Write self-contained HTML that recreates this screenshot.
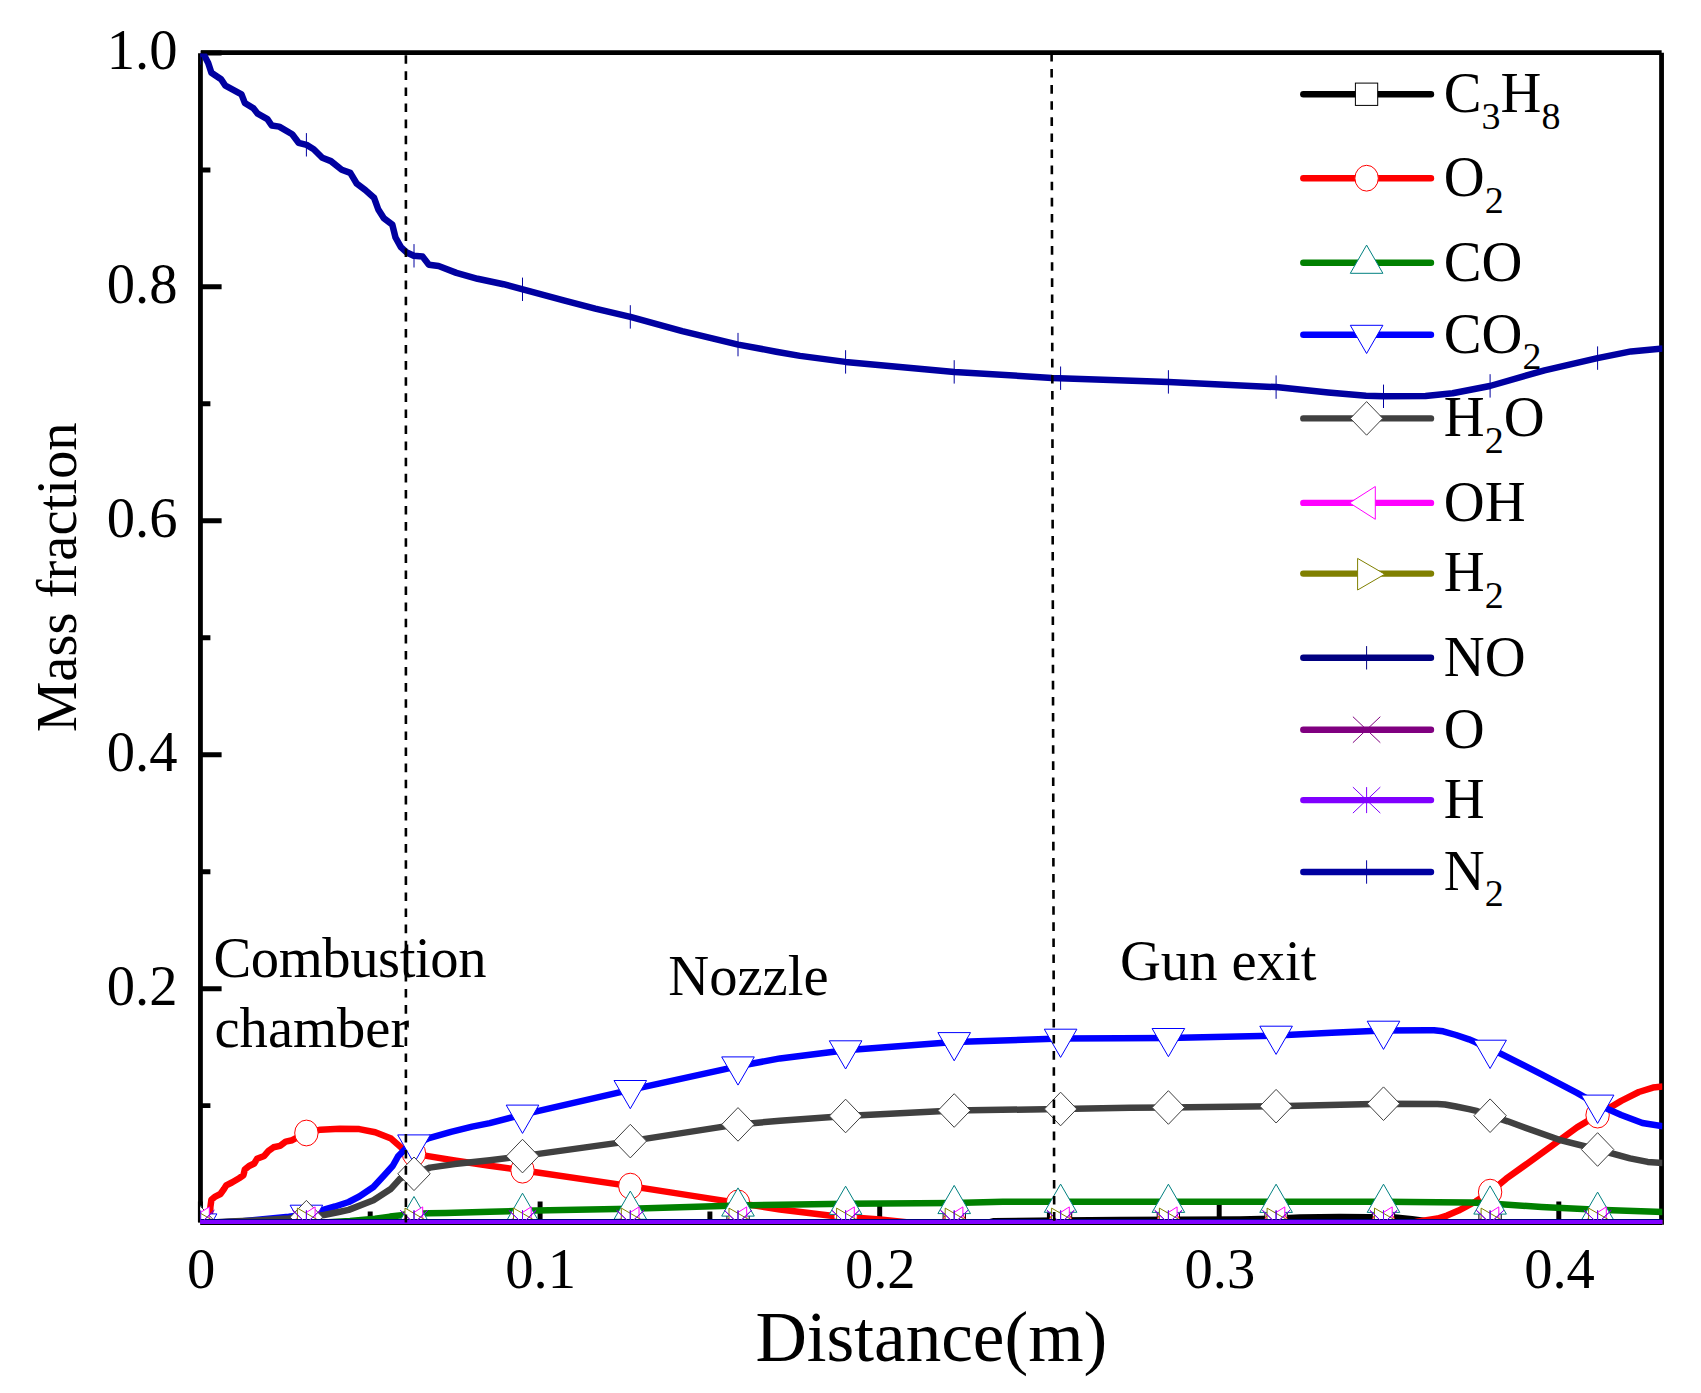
<!DOCTYPE html>
<html lang="en"><head><meta charset="utf-8"><title>Mass fraction vs distance</title>
<style>html,body{margin:0;padding:0;background:#fff}svg{display:block}text{font-family:'Liberation Serif', 'Times New Roman', serif;fill:#000}.t{font-size:56.6px}.sb{font-size:38px}.xt{font-size:71.2px}</style>
</head><body>
<svg width="1701" height="1393" viewBox="0 0 1701 1393">
<rect width="1701" height="1393" fill="#fff"/>
<defs><clipPath id="cp"><rect x="200.3" y="53.4" width="1462" height="1170.55"/></clipPath></defs>
<path d="M200.45 53.2V1222.6M201 52.55H1661.65M200.3 1222.65H1662M1661.55 52.8V1224.7" fill="none" stroke="#000" stroke-width="4.8"/>
<path d="M200.4 1222.3V1201.5M540.1 1222.3V1201.5M879.7 1222.3V1201.5M1219.2 1222.3V1201.5M1558.8 1222.3V1201.5M370.2 1222.3V1211.6M709.9 1222.3V1211.6M1049.4 1222.3V1211.6M1389 1222.3V1211.6M200.6 1222.6H221.6M200.6 988.7H221.6M200.6 754.7H221.6M200.6 520.8H221.6M200.6 286.8H221.6M200.6 52.9H221.6M200.6 1105.6H210.4M200.6 871.7H210.4M200.6 637.7H210.4M200.6 403.8H210.4M200.6 169.9H210.4" stroke="#000" stroke-width="4.95" fill="none"/>
<text class="t" x="201.1" y="1288" text-anchor="middle">0</text>
<text class="t" x="540.7" y="1288" text-anchor="middle">0.1</text>
<text class="t" x="880.3" y="1288" text-anchor="middle">0.2</text>
<text class="t" x="1219.9" y="1288" text-anchor="middle">0.3</text>
<text class="t" x="1559.5" y="1288" text-anchor="middle">0.4</text>
<text class="t" x="177.5" y="1004.8" text-anchor="end">0.2</text>
<text class="t" x="177.5" y="770.8" text-anchor="end">0.4</text>
<text class="t" x="177.5" y="536.9" text-anchor="end">0.6</text>
<text class="t" x="177.5" y="302.9" text-anchor="end">0.8</text>
<text class="t" x="177.5" y="69" text-anchor="end">1.0</text>
<text class="xt" x="931.3" y="1361" text-anchor="middle">Distance(m)</text>
<text class="t" transform="translate(76.3 577.2) rotate(-90)" text-anchor="middle">Mass fraction</text>
<g clip-path="url(#cp)">
<polyline points="200,1223.3 985,1223.3 994,1221.2 1060,1220.6 1120,1220 1240,1219.6 1280,1218.6 1300,1217.6 1340,1217 1395,1217.6 1412,1219.2 1425,1221 1440,1223.3 1663,1223.3" fill="none" stroke="#000000" stroke-width="6.5" stroke-linejoin="round" stroke-linecap="butt"/>
<rect x="189.4" y="1212.1" width="22.3" height="22.3" fill="#fff" stroke="#000000" stroke-width="1.0"/>
<rect x="295.2" y="1212.1" width="22.3" height="22.3" fill="#fff" stroke="#000000" stroke-width="1.0"/>
<rect x="402.9" y="1212.1" width="22.3" height="22.3" fill="#fff" stroke="#000000" stroke-width="1.0"/>
<rect x="511.4" y="1212.1" width="22.3" height="22.3" fill="#fff" stroke="#000000" stroke-width="1.0"/>
<rect x="619.1" y="1212.1" width="22.3" height="22.3" fill="#fff" stroke="#000000" stroke-width="1.0"/>
<rect x="726.9" y="1212.1" width="22.3" height="22.3" fill="#fff" stroke="#000000" stroke-width="1.0"/>
<rect x="834.5" y="1212.1" width="22.3" height="22.3" fill="#fff" stroke="#000000" stroke-width="1.0"/>
<rect x="943.1" y="1212.1" width="22.3" height="22.3" fill="#fff" stroke="#000000" stroke-width="1.0"/>
<rect x="1049.4" y="1209.4" width="22.3" height="22.3" fill="#fff" stroke="#000000" stroke-width="1.0"/>
<rect x="1157.2" y="1208.7" width="22.3" height="22.3" fill="#fff" stroke="#000000" stroke-width="1.0"/>
<rect x="1264.9" y="1207.5" width="22.3" height="22.3" fill="#fff" stroke="#000000" stroke-width="1.0"/>
<rect x="1372.3" y="1206.3" width="22.3" height="22.3" fill="#fff" stroke="#000000" stroke-width="1.0"/>
<rect x="1478.9" y="1212.1" width="22.3" height="22.3" fill="#fff" stroke="#000000" stroke-width="1.0"/>
<rect x="1586.4" y="1212.1" width="22.3" height="22.3" fill="#fff" stroke="#000000" stroke-width="1.0"/>
<polyline points="200,1223.3 208.5,1219 210.2,1212 210.4,1206.9 211.4,1199.7 214.7,1196.9 220.4,1194 224,1189 226.2,1185.4 231.9,1182.5 239.1,1178.2 243.4,1175.3 244.8,1169.6 249.1,1166 254.2,1163.5 257,1158.8 264.2,1155.9 268.5,1150.9 273.5,1147.3 280,1145.9 285.7,1141.6 292.2,1140.2 305.5,1133.2 320.5,1129.7 339.9,1128.8 359.3,1129.1 375.2,1132.2 391.1,1138.6 399.9,1146.4 406,1151.7 413.6,1153.5 428.1,1156.1 454.6,1160.5 489.8,1165.8 522.3,1170.2 630.3,1186.1 737.8,1202.9 780,1209.5 833.5,1215.9 880,1219.5 916,1223.3 1410,1223.3 1418.4,1221.5 1437.5,1218.5 1447,1215.6 1458.6,1210.6 1467,1206.2 1475.6,1201.5 1490.2,1192 1506.2,1178.7 1523.9,1166 1550.4,1146.9 1577,1127.4 1597.7,1115 1621.2,1100.9 1638.9,1092 1653,1087.6 1663,1086.6" fill="none" stroke="#ff0000" stroke-width="6.5" stroke-linejoin="round" stroke-linecap="butt"/>
<ellipse cx="200.6" cy="1223" rx="11.7" ry="12.9" fill="#fff" stroke="#ff0000" stroke-width="1.0"/>
<ellipse cx="306.4" cy="1133" rx="11.7" ry="12.9" fill="#fff" stroke="#ff0000" stroke-width="1.0"/>
<ellipse cx="414" cy="1153.6" rx="11.7" ry="12.9" fill="#fff" stroke="#ff0000" stroke-width="1.0"/>
<ellipse cx="522.5" cy="1170.2" rx="11.7" ry="12.9" fill="#fff" stroke="#ff0000" stroke-width="1.0"/>
<ellipse cx="630.3" cy="1186.1" rx="11.7" ry="12.9" fill="#fff" stroke="#ff0000" stroke-width="1.0"/>
<ellipse cx="738" cy="1202.9" rx="11.7" ry="12.9" fill="#fff" stroke="#ff0000" stroke-width="1.0"/>
<ellipse cx="845.6" cy="1216.8" rx="11.7" ry="12.9" fill="#fff" stroke="#ff0000" stroke-width="1.0"/>
<ellipse cx="954.2" cy="1223.3" rx="11.7" ry="12.9" fill="#fff" stroke="#ff0000" stroke-width="1.0"/>
<ellipse cx="1060.6" cy="1223.3" rx="11.7" ry="12.9" fill="#fff" stroke="#ff0000" stroke-width="1.0"/>
<ellipse cx="1168.4" cy="1223.3" rx="11.7" ry="12.9" fill="#fff" stroke="#ff0000" stroke-width="1.0"/>
<ellipse cx="1276.1" cy="1223.3" rx="11.7" ry="12.9" fill="#fff" stroke="#ff0000" stroke-width="1.0"/>
<ellipse cx="1383.5" cy="1223.3" rx="11.7" ry="12.9" fill="#fff" stroke="#ff0000" stroke-width="1.0"/>
<ellipse cx="1490.1" cy="1192.1" rx="11.7" ry="12.9" fill="#fff" stroke="#ff0000" stroke-width="1.0"/>
<ellipse cx="1597.6" cy="1115.1" rx="11.7" ry="12.9" fill="#fff" stroke="#ff0000" stroke-width="1.0"/>
<polyline points="200,1223.3 324,1222.6 350,1221 375,1218.8 390,1216.6 401.6,1215.2 414,1214.1 428.1,1213.3 446,1213 489.8,1211.7 522.3,1210.8 630.3,1208.7 737.8,1205.5 780,1204.7 845.8,1203.8 954.1,1203 1002.8,1201.8 1060.6,1201.7 1130,1201.8 1383.5,1201.8 1437.5,1202.2 1470.8,1202.6 1490.2,1203.5 1541.6,1207 1597.7,1209.7 1663,1211.9" fill="none" stroke="#008000" stroke-width="6.5" stroke-linejoin="round" stroke-linecap="butt"/>
<polygon points="200.6,1205.7 184.3,1233.9 216.9,1233.9" fill="#fff" stroke="#008080" stroke-width="1.0"/>
<polygon points="306.4,1205.1 290.1,1233.3 322.7,1233.3" fill="#fff" stroke="#008080" stroke-width="1.0"/>
<polygon points="414,1196.5 397.7,1224.7 430.3,1224.7" fill="#fff" stroke="#008080" stroke-width="1.0"/>
<polygon points="522.5,1193.2 506.2,1221.4 538.8,1221.4" fill="#fff" stroke="#008080" stroke-width="1.0"/>
<polygon points="630.3,1191.1 614,1219.3 646.6,1219.3" fill="#fff" stroke="#008080" stroke-width="1.0"/>
<polygon points="738,1187.9 721.7,1216.1 754.3,1216.1" fill="#fff" stroke="#008080" stroke-width="1.0"/>
<polygon points="845.6,1186.2 829.3,1214.4 861.9,1214.4" fill="#fff" stroke="#008080" stroke-width="1.0"/>
<polygon points="954.2,1185.4 937.9,1213.6 970.5,1213.6" fill="#fff" stroke="#008080" stroke-width="1.0"/>
<polygon points="1060.6,1184.1 1044.3,1212.3 1076.9,1212.3" fill="#fff" stroke="#008080" stroke-width="1.0"/>
<polygon points="1168.4,1184.2 1152.1,1212.4 1184.7,1212.4" fill="#fff" stroke="#008080" stroke-width="1.0"/>
<polygon points="1276.1,1184.2 1259.8,1212.4 1292.4,1212.4" fill="#fff" stroke="#008080" stroke-width="1.0"/>
<polygon points="1383.5,1184.2 1367.2,1212.4 1399.8,1212.4" fill="#fff" stroke="#008080" stroke-width="1.0"/>
<polygon points="1490.1,1185.9 1473.8,1214.1 1506.4,1214.1" fill="#fff" stroke="#008080" stroke-width="1.0"/>
<polygon points="1597.6,1192.1 1581.3,1220.3 1613.9,1220.3" fill="#fff" stroke="#008080" stroke-width="1.0"/>
<polyline points="200,1223.3 240,1221.5 255.3,1220 288.8,1216.8 306,1214.7 320.5,1210.5 335,1206.5 348.7,1202 359.3,1196.5 373.4,1187 384,1175.5 392.8,1165.8 398.1,1156.2 406,1148.3 413.6,1144.5 428.1,1138.4 451,1131.9 472.2,1126.6 489.8,1123.1 522.3,1114.6 630.3,1089.9 737.8,1066.3 780,1058.4 845.8,1050.2 954.1,1042 1060.6,1038.6 1120,1038.3 1168.3,1037.9 1276.2,1035.6 1331.6,1032.8 1383.5,1030.6 1426.9,1030.2 1434,1030.2 1443.1,1031.3 1456,1035 1468.9,1039.3 1475.8,1042.3 1490.2,1049.7 1499.1,1052.8 1520,1063.4 1541.6,1074.3 1577,1092.9 1597.7,1104.6 1621.2,1115 1642.4,1123 1663,1126.2" fill="none" stroke="#0000ff" stroke-width="6.5" stroke-linejoin="round" stroke-linecap="butt"/>
<polygon points="200.6,1242.1 184.3,1213.9 216.9,1213.9" fill="#fff" stroke="#0000ff" stroke-width="1.0"/>
<polygon points="306.4,1233.4 290.1,1205.2 322.7,1205.2" fill="#fff" stroke="#0000ff" stroke-width="1.0"/>
<polygon points="414,1163.2 397.7,1134.9 430.3,1134.9" fill="#fff" stroke="#0000ff" stroke-width="1.0"/>
<polygon points="522.5,1133.4 506.2,1105.1 538.8,1105.1" fill="#fff" stroke="#0000ff" stroke-width="1.0"/>
<polygon points="630.3,1108.7 614,1080.5 646.6,1080.5" fill="#fff" stroke="#0000ff" stroke-width="1.0"/>
<polygon points="738,1085.1 721.7,1056.9 754.3,1056.9" fill="#fff" stroke="#0000ff" stroke-width="1.0"/>
<polygon points="845.6,1069 829.3,1040.8 861.9,1040.8" fill="#fff" stroke="#0000ff" stroke-width="1.0"/>
<polygon points="954.2,1060.8 937.9,1032.6 970.5,1032.6" fill="#fff" stroke="#0000ff" stroke-width="1.0"/>
<polygon points="1060.6,1057.4 1044.3,1029.2 1076.9,1029.2" fill="#fff" stroke="#0000ff" stroke-width="1.0"/>
<polygon points="1168.4,1056.7 1152.1,1028.5 1184.7,1028.5" fill="#fff" stroke="#0000ff" stroke-width="1.0"/>
<polygon points="1276.1,1054.4 1259.8,1026.2 1292.4,1026.2" fill="#fff" stroke="#0000ff" stroke-width="1.0"/>
<polygon points="1383.5,1049.4 1367.2,1021.2 1399.8,1021.2" fill="#fff" stroke="#0000ff" stroke-width="1.0"/>
<polygon points="1490.1,1068.5 1473.8,1040.2 1506.4,1040.2" fill="#fff" stroke="#0000ff" stroke-width="1.0"/>
<polygon points="1597.6,1123.4 1581.3,1095.1 1613.9,1095.1" fill="#fff" stroke="#0000ff" stroke-width="1.0"/>
<polyline points="200,1223.3 229,1221.6 260,1220.3 288.8,1218.6 306,1217.2 324,1215 340,1211.8 348.7,1209.9 373.4,1200.2 391.1,1188.7 399.9,1178.8 406,1175.5 414,1173.8 429.9,1167.6 454.6,1164.1 489.8,1160.3 522.3,1156.1 630.3,1141.1 737.8,1124.4 780,1120.8 845.8,1116 954.1,1110.5 1060.6,1109 1130,1107.8 1168.3,1107.5 1276.2,1106.2 1383.5,1103.7 1437.5,1103.9 1445,1104.5 1456,1106.5 1468.9,1109.1 1477.5,1111.2 1490.2,1115.7 1507.7,1121.3 1523.9,1127.2 1559.3,1139.8 1597.7,1149.5 1630,1158.4 1647.7,1161.9 1663,1163" fill="none" stroke="#404040" stroke-width="6.5" stroke-linejoin="round" stroke-linecap="butt"/>
<polygon points="200.6,1206.5 216.8,1223.3 200.6,1240.1 184.4,1223.3" fill="#fff" stroke="#404040" stroke-width="1.0"/>
<polygon points="306.4,1200.4 322.6,1217.2 306.4,1234 290.2,1217.2" fill="#fff" stroke="#404040" stroke-width="1.0"/>
<polygon points="414,1157 430.2,1173.8 414,1190.6 397.8,1173.8" fill="#fff" stroke="#404040" stroke-width="1.0"/>
<polygon points="522.5,1139.3 538.7,1156.1 522.5,1172.9 506.3,1156.1" fill="#fff" stroke="#404040" stroke-width="1.0"/>
<polygon points="630.3,1124.3 646.5,1141.1 630.3,1157.9 614.1,1141.1" fill="#fff" stroke="#404040" stroke-width="1.0"/>
<polygon points="738,1107.6 754.2,1124.4 738,1141.2 721.8,1124.4" fill="#fff" stroke="#404040" stroke-width="1.0"/>
<polygon points="845.6,1099.2 861.8,1116 845.6,1132.8 829.4,1116" fill="#fff" stroke="#404040" stroke-width="1.0"/>
<polygon points="954.2,1093.7 970.4,1110.5 954.2,1127.3 938,1110.5" fill="#fff" stroke="#404040" stroke-width="1.0"/>
<polygon points="1060.6,1092.2 1076.8,1109 1060.6,1125.8 1044.4,1109" fill="#fff" stroke="#404040" stroke-width="1.0"/>
<polygon points="1168.4,1090.7 1184.6,1107.5 1168.4,1124.3 1152.2,1107.5" fill="#fff" stroke="#404040" stroke-width="1.0"/>
<polygon points="1276.1,1089.4 1292.3,1106.2 1276.1,1123 1259.9,1106.2" fill="#fff" stroke="#404040" stroke-width="1.0"/>
<polygon points="1383.5,1086.9 1399.7,1103.7 1383.5,1120.5 1367.3,1103.7" fill="#fff" stroke="#404040" stroke-width="1.0"/>
<polygon points="1490.1,1098.9 1506.3,1115.7 1490.1,1132.5 1473.9,1115.7" fill="#fff" stroke="#404040" stroke-width="1.0"/>
<polygon points="1597.6,1132.7 1613.8,1149.5 1597.6,1166.3 1581.4,1149.5" fill="#fff" stroke="#404040" stroke-width="1.0"/>
<polyline points="200,1223.3 1663,1223.3" fill="none" stroke="#ff00ff" stroke-width="6.5" stroke-linejoin="round" stroke-linecap="butt"/>
<polygon points="183.6,1223.3 209.3,1206.9 209.3,1239.7" fill="#fff" stroke="#ff00ff" stroke-width="1.0"/>
<polygon points="289.4,1223.3 315.1,1206.9 315.1,1239.7" fill="#fff" stroke="#ff00ff" stroke-width="1.0"/>
<polygon points="397,1223.3 422.7,1206.9 422.7,1239.7" fill="#fff" stroke="#ff00ff" stroke-width="1.0"/>
<polygon points="505.5,1223.3 531.2,1206.9 531.2,1239.7" fill="#fff" stroke="#ff00ff" stroke-width="1.0"/>
<polygon points="613.3,1223.3 639,1206.9 639,1239.7" fill="#fff" stroke="#ff00ff" stroke-width="1.0"/>
<polygon points="721,1223.3 746.7,1206.9 746.7,1239.7" fill="#fff" stroke="#ff00ff" stroke-width="1.0"/>
<polygon points="828.6,1223.3 854.3,1206.9 854.3,1239.7" fill="#fff" stroke="#ff00ff" stroke-width="1.0"/>
<polygon points="937.2,1223.3 962.9,1206.9 962.9,1239.7" fill="#fff" stroke="#ff00ff" stroke-width="1.0"/>
<polygon points="1043.6,1223.3 1069.3,1206.9 1069.3,1239.7" fill="#fff" stroke="#ff00ff" stroke-width="1.0"/>
<polygon points="1151.4,1223.3 1177.1,1206.9 1177.1,1239.7" fill="#fff" stroke="#ff00ff" stroke-width="1.0"/>
<polygon points="1259.1,1223.3 1284.8,1206.9 1284.8,1239.7" fill="#fff" stroke="#ff00ff" stroke-width="1.0"/>
<polygon points="1366.5,1223.3 1392.2,1206.9 1392.2,1239.7" fill="#fff" stroke="#ff00ff" stroke-width="1.0"/>
<polygon points="1473.1,1223.3 1498.8,1206.9 1498.8,1239.7" fill="#fff" stroke="#ff00ff" stroke-width="1.0"/>
<polygon points="1580.6,1223.3 1606.3,1206.9 1606.3,1239.7" fill="#fff" stroke="#ff00ff" stroke-width="1.0"/>
<polyline points="200,1223.3 1663,1223.3" fill="none" stroke="#808000" stroke-width="6.5" stroke-linejoin="round" stroke-linecap="butt"/>
<polygon points="218.8,1223.9 191.6,1208.1 191.6,1239.7" fill="#fff" stroke="#808000" stroke-width="1.0"/>
<polygon points="324.6,1223.9 297.4,1208.1 297.4,1239.7" fill="#fff" stroke="#808000" stroke-width="1.0"/>
<polygon points="432.2,1223.9 405,1208.1 405,1239.7" fill="#fff" stroke="#808000" stroke-width="1.0"/>
<polygon points="540.7,1223.9 513.5,1208.1 513.5,1239.7" fill="#fff" stroke="#808000" stroke-width="1.0"/>
<polygon points="648.5,1223.9 621.3,1208.1 621.3,1239.7" fill="#fff" stroke="#808000" stroke-width="1.0"/>
<polygon points="756.2,1223.9 729,1208.1 729,1239.7" fill="#fff" stroke="#808000" stroke-width="1.0"/>
<polygon points="863.8,1223.9 836.6,1208.1 836.6,1239.7" fill="#fff" stroke="#808000" stroke-width="1.0"/>
<polygon points="972.4,1223.9 945.2,1208.1 945.2,1239.7" fill="#fff" stroke="#808000" stroke-width="1.0"/>
<polygon points="1078.8,1223.9 1051.6,1208.1 1051.6,1239.7" fill="#fff" stroke="#808000" stroke-width="1.0"/>
<polygon points="1186.6,1223.9 1159.4,1208.1 1159.4,1239.7" fill="#fff" stroke="#808000" stroke-width="1.0"/>
<polygon points="1294.3,1223.9 1267.1,1208.1 1267.1,1239.7" fill="#fff" stroke="#808000" stroke-width="1.0"/>
<polygon points="1401.7,1223.9 1374.5,1208.1 1374.5,1239.7" fill="#fff" stroke="#808000" stroke-width="1.0"/>
<polygon points="1508.3,1223.9 1481.1,1208.1 1481.1,1239.7" fill="#fff" stroke="#808000" stroke-width="1.0"/>
<polygon points="1615.8,1223.9 1588.6,1208.1 1588.6,1239.7" fill="#fff" stroke="#808000" stroke-width="1.0"/>
<polyline points="200,1222.2 1663,1222.2" fill="none" stroke="#000080" stroke-width="6.5" stroke-linejoin="round" stroke-linecap="butt"/>
<path d="M200.6 1210.5V1233.9" fill="none" stroke="#000080" stroke-width="1.0"/>
<path d="M306.4 1210.5V1233.9" fill="none" stroke="#000080" stroke-width="1.0"/>
<path d="M414 1210.5V1233.9" fill="none" stroke="#000080" stroke-width="1.0"/>
<path d="M522.5 1210.5V1233.9" fill="none" stroke="#000080" stroke-width="1.0"/>
<path d="M630.3 1210.5V1233.9" fill="none" stroke="#000080" stroke-width="1.0"/>
<path d="M738 1210.5V1233.9" fill="none" stroke="#000080" stroke-width="1.0"/>
<path d="M845.6 1210.5V1233.9" fill="none" stroke="#000080" stroke-width="1.0"/>
<path d="M954.2 1210.5V1233.9" fill="none" stroke="#000080" stroke-width="1.0"/>
<path d="M1060.6 1210.5V1233.9" fill="none" stroke="#000080" stroke-width="1.0"/>
<path d="M1168.4 1210.5V1233.9" fill="none" stroke="#000080" stroke-width="1.0"/>
<path d="M1276.1 1210.5V1233.9" fill="none" stroke="#000080" stroke-width="1.0"/>
<path d="M1383.5 1210.5V1233.9" fill="none" stroke="#000080" stroke-width="1.0"/>
<path d="M1490.1 1210.5V1233.9" fill="none" stroke="#000080" stroke-width="1.0"/>
<path d="M1597.6 1210.5V1233.9" fill="none" stroke="#000080" stroke-width="1.0"/>
<polyline points="200,1223.3 1663,1223.3" fill="none" stroke="#800080" stroke-width="6.5" stroke-linejoin="round" stroke-linecap="butt"/>
<path d="M186.9 1210.3L214.3 1236.3M186.9 1236.3L214.3 1210.3" fill="none" stroke="#800080" stroke-width="1.0"/>
<path d="M292.7 1210.3L320.1 1236.3M292.7 1236.3L320.1 1210.3" fill="none" stroke="#800080" stroke-width="1.0"/>
<path d="M400.3 1210.3L427.7 1236.3M400.3 1236.3L427.7 1210.3" fill="none" stroke="#800080" stroke-width="1.0"/>
<path d="M508.8 1210.3L536.2 1236.3M508.8 1236.3L536.2 1210.3" fill="none" stroke="#800080" stroke-width="1.0"/>
<path d="M616.6 1210.3L644 1236.3M616.6 1236.3L644 1210.3" fill="none" stroke="#800080" stroke-width="1.0"/>
<path d="M724.3 1210.3L751.7 1236.3M724.3 1236.3L751.7 1210.3" fill="none" stroke="#800080" stroke-width="1.0"/>
<path d="M831.9 1210.3L859.3 1236.3M831.9 1236.3L859.3 1210.3" fill="none" stroke="#800080" stroke-width="1.0"/>
<path d="M940.5 1210.3L967.9 1236.3M940.5 1236.3L967.9 1210.3" fill="none" stroke="#800080" stroke-width="1.0"/>
<path d="M1046.9 1210.3L1074.3 1236.3M1046.9 1236.3L1074.3 1210.3" fill="none" stroke="#800080" stroke-width="1.0"/>
<path d="M1154.7 1210.3L1182.1 1236.3M1154.7 1236.3L1182.1 1210.3" fill="none" stroke="#800080" stroke-width="1.0"/>
<path d="M1262.4 1210.3L1289.8 1236.3M1262.4 1236.3L1289.8 1210.3" fill="none" stroke="#800080" stroke-width="1.0"/>
<path d="M1369.8 1210.3L1397.2 1236.3M1369.8 1236.3L1397.2 1210.3" fill="none" stroke="#800080" stroke-width="1.0"/>
<path d="M1476.4 1210.3L1503.8 1236.3M1476.4 1236.3L1503.8 1210.3" fill="none" stroke="#800080" stroke-width="1.0"/>
<path d="M1583.9 1210.3L1611.3 1236.3M1583.9 1236.3L1611.3 1210.3" fill="none" stroke="#800080" stroke-width="1.0"/>
<polyline points="200,1223.3 1663,1223.3" fill="none" stroke="#8000ff" stroke-width="6.5" stroke-linejoin="round" stroke-linecap="butt"/>
<path d="M186.9 1210.3L214.3 1236.3M186.9 1236.3L214.3 1210.3M200.6 1210.3V1236.3" fill="none" stroke="#8000ff" stroke-width="1.0"/>
<path d="M292.7 1210.3L320.1 1236.3M292.7 1236.3L320.1 1210.3M306.4 1210.3V1236.3" fill="none" stroke="#8000ff" stroke-width="1.0"/>
<path d="M400.3 1210.3L427.7 1236.3M400.3 1236.3L427.7 1210.3M414 1210.3V1236.3" fill="none" stroke="#8000ff" stroke-width="1.0"/>
<path d="M508.8 1210.3L536.2 1236.3M508.8 1236.3L536.2 1210.3M522.5 1210.3V1236.3" fill="none" stroke="#8000ff" stroke-width="1.0"/>
<path d="M616.6 1210.3L644 1236.3M616.6 1236.3L644 1210.3M630.3 1210.3V1236.3" fill="none" stroke="#8000ff" stroke-width="1.0"/>
<path d="M724.3 1210.3L751.7 1236.3M724.3 1236.3L751.7 1210.3M738 1210.3V1236.3" fill="none" stroke="#8000ff" stroke-width="1.0"/>
<path d="M831.9 1210.3L859.3 1236.3M831.9 1236.3L859.3 1210.3M845.6 1210.3V1236.3" fill="none" stroke="#8000ff" stroke-width="1.0"/>
<path d="M940.5 1210.3L967.9 1236.3M940.5 1236.3L967.9 1210.3M954.2 1210.3V1236.3" fill="none" stroke="#8000ff" stroke-width="1.0"/>
<path d="M1046.9 1210.3L1074.3 1236.3M1046.9 1236.3L1074.3 1210.3M1060.6 1210.3V1236.3" fill="none" stroke="#8000ff" stroke-width="1.0"/>
<path d="M1154.7 1210.3L1182.1 1236.3M1154.7 1236.3L1182.1 1210.3M1168.4 1210.3V1236.3" fill="none" stroke="#8000ff" stroke-width="1.0"/>
<path d="M1262.4 1210.3L1289.8 1236.3M1262.4 1236.3L1289.8 1210.3M1276.1 1210.3V1236.3" fill="none" stroke="#8000ff" stroke-width="1.0"/>
<path d="M1369.8 1210.3L1397.2 1236.3M1369.8 1236.3L1397.2 1210.3M1383.5 1210.3V1236.3" fill="none" stroke="#8000ff" stroke-width="1.0"/>
<path d="M1476.4 1210.3L1503.8 1236.3M1476.4 1236.3L1503.8 1210.3M1490.1 1210.3V1236.3" fill="none" stroke="#8000ff" stroke-width="1.0"/>
<path d="M1583.9 1210.3L1611.3 1236.3M1583.9 1236.3L1611.3 1210.3M1597.6 1210.3V1236.3" fill="none" stroke="#8000ff" stroke-width="1.0"/>
<polyline points="200,52.6 203.8,54.5 208.2,63.1 211.4,72.8 221.1,79.2 225.4,85.7 241.5,94.3 244.8,102.9 253.4,108.3 257.7,113.7 267.4,119.1 271.7,125.5 279.2,126.6 292.2,134.2 298.6,142.8 306.6,144.9 313.7,149.2 322.3,157.8 330.9,161.1 341.7,169.7 350.3,172.9 356.8,183.7 365.4,190.1 374,197.7 378.3,209.5 383.7,218.1 392.3,224.6 395.5,237.5 400.9,247.2 406.3,252.2 413.8,255.8 422.5,256.6 428.9,264.8 438.6,266 456.4,272.9 477.6,278.8 503.5,284.2 522.8,289.4 564.6,300.6 595.2,308.6 630.4,316.9 682.2,331.2 738.2,344.6 776.2,351.7 800,355.9 845.4,361.9 954.4,371.9 1052,377.9 1168.6,381.9 1220,384.4 1276,387.1 1328.2,392.5 1366,395.7 1383.6,396.3 1425.5,396 1452.6,393.3 1489.9,386 1544.5,370.3 1597.5,358.1 1631,351.4 1663,348.5" fill="none" stroke="#0000a0" stroke-width="6.5" stroke-linejoin="round" stroke-linecap="butt"/>
<path d="M200.6 41.2V64.6" fill="none" stroke="#0000a0" stroke-width="1.0"/>
<path d="M306.4 133.1V156.5" fill="none" stroke="#0000a0" stroke-width="1.0"/>
<path d="M414 244.1V267.5" fill="none" stroke="#0000a0" stroke-width="1.0"/>
<path d="M522.5 277.6V301" fill="none" stroke="#0000a0" stroke-width="1.0"/>
<path d="M630.3 305.2V328.6" fill="none" stroke="#0000a0" stroke-width="1.0"/>
<path d="M738 332.9V356.3" fill="none" stroke="#0000a0" stroke-width="1.0"/>
<path d="M845.6 350.2V373.6" fill="none" stroke="#0000a0" stroke-width="1.0"/>
<path d="M954.2 360.2V383.6" fill="none" stroke="#0000a0" stroke-width="1.0"/>
<path d="M1060.6 366.5V389.9" fill="none" stroke="#0000a0" stroke-width="1.0"/>
<path d="M1168.4 370.2V393.6" fill="none" stroke="#0000a0" stroke-width="1.0"/>
<path d="M1276.1 375.4V398.8" fill="none" stroke="#0000a0" stroke-width="1.0"/>
<path d="M1383.5 384.6V408" fill="none" stroke="#0000a0" stroke-width="1.0"/>
<path d="M1490.1 374.2V397.6" fill="none" stroke="#0000a0" stroke-width="1.0"/>
<path d="M1597.6 346.4V369.8" fill="none" stroke="#0000a0" stroke-width="1.0"/>
</g>
<line x1="405.9" y1="55.2" x2="405.9" y2="1222.5" stroke="#000" stroke-width="2.6" stroke-dasharray="8.6 7.5"/>
<line x1="1051.6" y1="52.9" x2="1054.2" y2="1222" stroke="#000" stroke-width="2.6" stroke-dasharray="8.6 7.5"/>
<text class="t" x="213.5" y="977" textLength="273" lengthAdjust="spacing">Combustion</text>
<text class="t" x="214.5" y="1047">chamber</text>
<text class="t" x="668.3" y="994.5">Nozzle</text>
<text class="t" x="1120" y="979.5">Gun exit</text>
<line x1="1303.3" y1="94.3" x2="1431" y2="94.3" stroke="#000000" stroke-width="6.4" stroke-linecap="round"/>
<rect x="1355.4" y="83.1" width="22.3" height="22.3" fill="#fff" stroke="#000000" stroke-width="1.0"/>
<text class="t" x="1443.8" y="112.1">C<tspan class="sb" dy="16.6">3</tspan><tspan dy="-16.6">H</tspan><tspan class="sb" dy="16.6">8</tspan></text>
<line x1="1303.3" y1="178.2" x2="1431" y2="178.2" stroke="#ff0000" stroke-width="6.4" stroke-linecap="round"/>
<ellipse cx="1366.6" cy="178.2" rx="11.7" ry="12.9" fill="#fff" stroke="#ff0000" stroke-width="1.0"/>
<text class="t" x="1443.8" y="196">O<tspan class="sb" dy="16.6">2</tspan></text>
<line x1="1303.3" y1="262.7" x2="1431" y2="262.7" stroke="#008000" stroke-width="6.4" stroke-linecap="round"/>
<polygon points="1366.6,245.1 1350.3,273.3 1382.9,273.3" fill="#fff" stroke="#008080" stroke-width="1.0"/>
<text class="t" x="1443.8" y="280.5">CO</text>
<line x1="1303.3" y1="334.7" x2="1431" y2="334.7" stroke="#0000ff" stroke-width="6.4" stroke-linecap="round"/>
<polygon points="1366.6,353.5 1350.3,325.3 1382.9,325.3" fill="#fff" stroke="#0000ff" stroke-width="1.0"/>
<text class="t" x="1443.8" y="352.5">CO<tspan class="sb" dy="16.6">2</tspan></text>
<line x1="1303.3" y1="418.4" x2="1431" y2="418.4" stroke="#404040" stroke-width="6.4" stroke-linecap="round"/>
<polygon points="1366.6,401.6 1382.8,418.4 1366.6,435.2 1350.4,418.4" fill="#fff" stroke="#404040" stroke-width="1.0"/>
<text class="t" x="1443.8" y="436.2">H<tspan class="sb" dy="16.6">2</tspan><tspan dy="-16.6">O</tspan></text>
<line x1="1303.3" y1="502.9" x2="1431" y2="502.9" stroke="#ff00ff" stroke-width="6.4" stroke-linecap="round"/>
<polygon points="1349.6,502.9 1375.3,486.5 1375.3,519.3" fill="#fff" stroke="#ff00ff" stroke-width="1.0"/>
<text class="t" x="1443.8" y="520.7">OH</text>
<line x1="1303.3" y1="573.6" x2="1431" y2="573.6" stroke="#808000" stroke-width="6.4" stroke-linecap="round"/>
<polygon points="1384.8,574.2 1357.6,558.4 1357.6,590" fill="#fff" stroke="#808000" stroke-width="1.0"/>
<text class="t" x="1443.8" y="591.4">H<tspan class="sb" dy="16.6">2</tspan></text>
<line x1="1303.3" y1="657.8" x2="1431" y2="657.8" stroke="#000080" stroke-width="6.4" stroke-linecap="round"/>
<path d="M1366.6 646.1V669.5" fill="none" stroke="#000080" stroke-width="1.0"/>
<text class="t" x="1443.8" y="675.6">NO</text>
<line x1="1303.3" y1="729.7" x2="1431" y2="729.7" stroke="#800080" stroke-width="6.4" stroke-linecap="round"/>
<path d="M1352.9 716.7L1380.3 742.7M1352.9 742.7L1380.3 716.7" fill="none" stroke="#800080" stroke-width="1.0"/>
<text class="t" x="1443.8" y="747.5">O</text>
<line x1="1303.3" y1="800.1" x2="1431" y2="800.1" stroke="#8000ff" stroke-width="6.4" stroke-linecap="round"/>
<path d="M1352.9 787.1L1380.3 813.1M1352.9 813.1L1380.3 787.1M1366.6 787.1V813.1" fill="none" stroke="#8000ff" stroke-width="1.0"/>
<text class="t" x="1443.8" y="817.9">H</text>
<line x1="1303.3" y1="872" x2="1431" y2="872" stroke="#0000a0" stroke-width="6.4" stroke-linecap="round"/>
<path d="M1366.6 860.3V883.7" fill="none" stroke="#0000a0" stroke-width="1.0"/>
<text class="t" x="1443.8" y="889.8">N<tspan class="sb" dy="16.6">2</tspan></text>
</svg>
</body></html>
